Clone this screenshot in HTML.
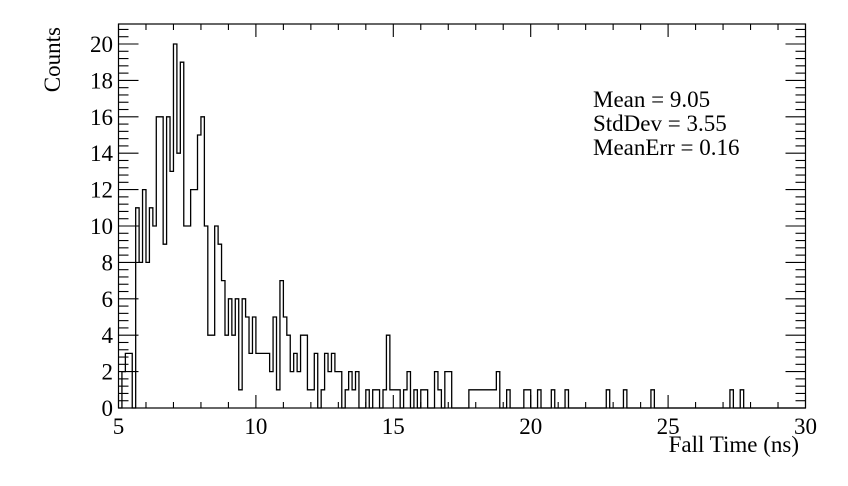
<!DOCTYPE html>
<html><head><meta charset="utf-8"><style>
html,body{margin:0;padding:0;background:#fff;}
svg{display:block;}
text{font-family:"Liberation Serif","DejaVu Serif",serif;}
</style></head><body>
<svg id="chart" width="848" height="486" viewBox="0 0 848 486" xmlns="http://www.w3.org/2000/svg">
<rect x="0" y="0" width="848" height="486" fill="#fff"/>
<g id="ticks"></g>
<path id="hist" fill="none" stroke="#000" stroke-width="1.3"/>
<rect x="118.5" y="24" width="687" height="384" fill="none" stroke="#000" stroke-width="1.2"/>
<g id="labels" font-size="23" fill="#000"></g>
<text x="0" y="0" font-size="23" text-anchor="end" transform="translate(60,27) rotate(-90)">Counts</text>
<text x="799" y="452" font-size="23" text-anchor="end">Fall Time (ns)</text>
<g font-size="23">
<text x="593" y="107">Mean = 9.05</text>
<text x="593" y="131">StdDev = 3.55</text>
<text x="593" y="155">MeanErr = 0.16</text>
</g>
</svg>
<script>
const binLow = 5;
const binWidth = 0.125;
const counts = [0,2,3,3,0,11,8,12,8,11,10,16,16,9,16,13,20,14,19,10,
10,12,12,15,16,10,4,4,10,9,7,4,6,4,6,1,6,5,3,5,
3,3,3,3,2,5,1,7,5,4,2,3,2,4,4,1,1,3,0,1,
3,2,3,2,2,0,1,2,1,2,0,0,1,0,1,1,0,1,4,1,
1,1,0,1,2,0,1,0,1,1,0,0,2,1,0,2,2,0,0,0,
0,0,1,1,1,1,1,1,1,1,2,0,0,1,0,0,0,0,1,1,
0,0,1,0,0,0,1,0,0,0,1,0,0,0,0,0,0,0,0,0,
0,0,1,0,0,0,0,1,0,0,0,0,0,0,0,1,0,0,0,0,
0,0,0,0,0,0,0,0,0,0,0,0,0,0,0,0,0,0,1,0,
0,1,0,0,0,0,0,0,0,0,0,0,0,0,0,0,0,0,0,0];
const xTickLabels = [5,10,15,20,25,30];
const yTickLabels = [0,2,4,6,8,10,12,14,16,18,20];

const X0=118.5, X1=805.5, XMIN=5, XMAX=30;
const Y0=408, YPER=18.2;
function xs(v){return X0+(v-XMIN)/(XMAX-XMIN)*(X1-X0);}
function ys(v){return Y0-v*YPER;}

let d='M'+xs(binLow)+' '+ys(0);
counts.forEach((c,i)=>{
  const a=xs(binLow+i*binWidth), b=xs(binLow+(i+1)*binWidth);
  d+=' L'+a+' '+ys(c)+' L'+b+' '+ys(c);
});
d+=' L'+xs(binLow+counts.length*binWidth)+' '+ys(0);
document.getElementById('hist').setAttribute('d',d);

const NS='http://www.w3.org/2000/svg';
const tg=document.getElementById('ticks');
function line(x1,y1,x2,y2){
  const l=document.createElementNS(NS,'line');
  l.setAttribute('x1',x1);l.setAttribute('y1',y1);l.setAttribute('x2',x2);l.setAttribute('y2',y2);
  l.setAttribute('stroke','#000');l.setAttribute('stroke-width','1.1');
  
  
  tg.appendChild(l);
}
for(let v=XMIN; v<=XMAX; v+=1){
  const x=xs(v), major=(v%5===0);
  line(x,Y0,x,Y0-(major?13:6));
  line(x,24,x,24+(major?13:6));
}
for(let k=0; k*0.4<=21; k++){
  const v=k*0.4, y=ys(v), major=(k%5===0);
  if(y<24) break;
  line(X0,y,X0+(major?20:10),y);
  line(X1,y,X1-(major?20:10),y);
}
const lg=document.getElementById('labels');
xTickLabels.forEach(v=>{
  const t=document.createElementNS(NS,'text');
  t.setAttribute('x',xs(v));t.setAttribute('y',434);t.setAttribute('text-anchor','middle');
  t.textContent=v;
  
  
  lg.appendChild(t);
});
yTickLabels.forEach(v=>{
  const t=document.createElementNS(NS,'text');
  t.setAttribute('x',113);t.setAttribute('y',ys(v)+8);t.setAttribute('text-anchor','end');
  t.textContent=v;
  
  
  lg.appendChild(t);
});
</script>
</body></html>
